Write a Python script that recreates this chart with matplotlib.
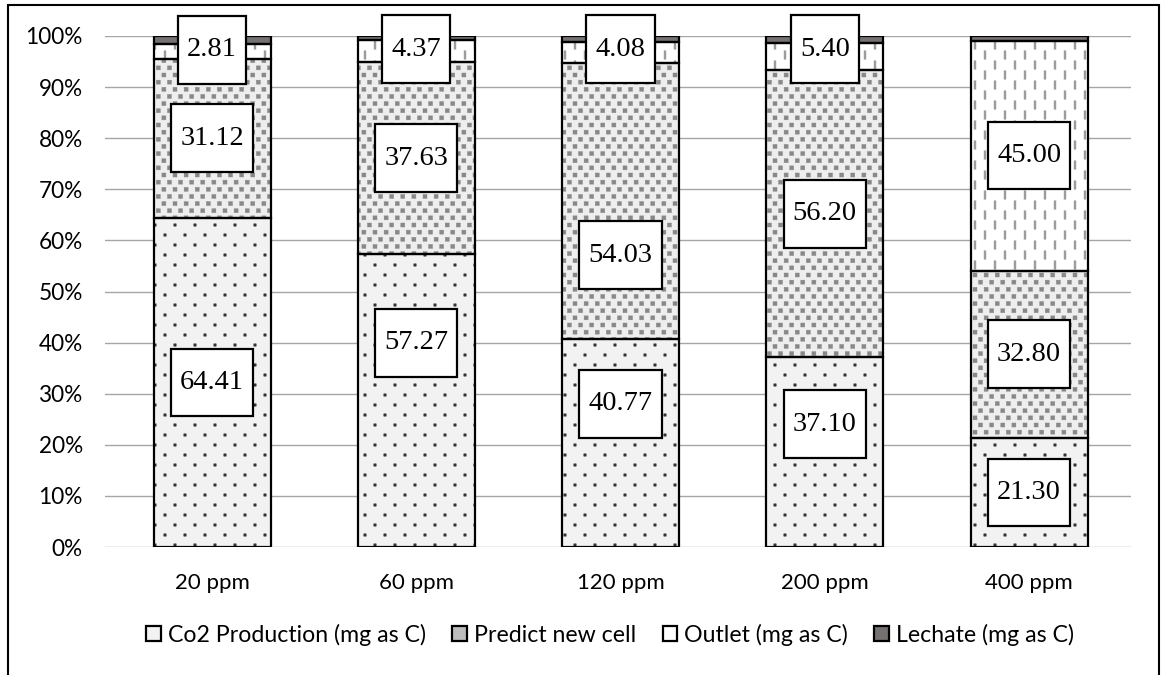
import numpy as np
import matplotlib
matplotlib.use("Agg")
import matplotlib.pyplot as plt
from matplotlib import hatch as mhatch
from matplotlib.path import Path
from matplotlib.patches import Patch, Rectangle

# ---- data -------------------------------------------------------------
categories = ["20 ppm", "60 ppm", "120 ppm", "200 ppm", "400 ppm"]
co2_production = [64.41, 57.27, 40.77, 37.10, 21.30]
predict_new_cell = [31.12, 37.63, 54.03, 56.20, 32.80]
outlet = [2.81, 4.37, 4.08, 5.40, 45.00]
lechate = [1.66, 0.73, 1.12, 1.30, 0.90]
series_names = ["Co2 Production (mg as C)", "Predict new cell",
                "Outlet (mg as C)", "Lechate (mg as C)"]
y_ticks = [0, 10, 20, 30, 40, 50, 60, 70, 80, 90, 100]

# label nudges (percentage points) away from each segment centre
co2_label_shift = [0.0, 11.3, 7.6, 5.5, 0.0]
predict_label_shift = [0.0, 0.0, -10.7, 0.0, 0.0]
outlet_label_shift = [0.4, 0.3, 0.6, 1.4, 0.0]


# ---- tiled fill textures ---------------------------------------------
class _RectTiles(mhatch.HatchPatternBase):
    """Small filled rectangles laid out on a staggered grid in the hatch tile."""
    key = ""
    ncols, nrows = 1, 1
    w, h = 0.02, 0.02
    stagger_rows = True

    def __init__(self, hatch, density):
        self.centers = self._centers() if (hatch and self.key in hatch) else []
        self.num_vertices = 5 * len(self.centers)

    def _centers(self):
        pts = []
        for r in range(self.nrows):
            for c in range(self.ncols):
                if self.stagger_rows:
                    off = 0.5 if r % 2 else 0.0
                    pts.append(((c + 0.25 + off) / self.ncols, (r + 0.5) / self.nrows))
                else:
                    off = 0.5 if c % 2 else 0.0
                    pts.append(((c + 0.5) / self.ncols, (r + 0.25 + off) / self.nrows))
        return pts

    def set_vertices_and_codes(self, vertices, codes):
        hw, hh = self.w / 2, self.h / 2
        for i, (cx, cy) in enumerate(self.centers):
            vertices[5 * i:5 * i + 5] = [(cx - hw, cy - hh), (cx + hw, cy - hh),
                                         (cx + hw, cy + hh), (cx - hw, cy + hh),
                                         (cx - hw, cy - hh)]
            codes[5 * i:5 * i + 5] = [Path.MOVETO, Path.LINETO, Path.LINETO,
                                      Path.LINETO, Path.CLOSEPOLY]


class FineDots(_RectTiles):
    key = "."
    ncols, nrows = 5, 10
    w = h = 0.024


class GreySquares(_RectTiles):
    key = "o"
    ncols, nrows = 9, 14
    w = h = 0.04


class VerticalDashes(_RectTiles):
    key = "|"
    ncols, nrows = 10, 5
    w, h = 0.02, 0.085
    stagger_rows = False


mhatch._hatch_types[:] = [FineDots, GreySquares, VerticalDashes]
plt.rcParams["hatch.linewidth"] = 0.3


def label_box(x0, y0, width, height, mutation_size):
    """Fixed-height rectangle with a narrow side margin around a value label."""
    padx = 0.32 * mutation_size
    half_h = 1.19 * mutation_size
    cy = y0 + height / 2
    xl, xr = x0 - padx, x0 + width + padx
    return Path([(xl, cy - half_h), (xr, cy - half_h), (xr, cy + half_h),
                 (xl, cy + half_h), (xl, cy - half_h)],
                [Path.MOVETO, Path.LINETO, Path.LINETO, Path.LINETO, Path.CLOSEPOLY])


# ---- figure -----------------------------------------------------------
W, H = 1162, 675
fig = plt.figure(figsize=(W / 100, H / 100), dpi=100)
ax = fig.add_axes([105 / W, (H - 547) / H, (1131 - 105) / W, (547 - 36) / H])

sans = "Lato"
x = np.arange(len(categories))
bar_width = 0.573
series = [co2_production, predict_new_cell, outlet, lechate]
faces = ["#f2f2f2", "#eeeeee", "#ffffff", "#767171"]
texture_colors = ["#333333", "#888888", "#9c9c9c", "#767171"]
textures = [".", "o", "|", None]
shifts = [co2_label_shift, predict_label_shift, outlet_label_shift, None]

bottom = np.zeros(len(categories))
for vals, fc, tc, tex, shift in zip(series, faces, texture_colors, textures, shifts):
    vals = np.asarray(vals, dtype=float)
    ax.bar(x, vals, bar_width, bottom=bottom, color=fc, edgecolor=tc,
           linewidth=0, hatch=tex, zorder=2)
    ax.bar(x, vals, bar_width, bottom=bottom, fill=False, edgecolor="black",
           linewidth=1.6, zorder=3)
    if shift is not None:
        for xi, b, v, s in zip(x, bottom, vals, shift):
            ax.text(xi, b + v / 2 + s, f"{v:.2f}", ha="center", va="center",
                    fontsize=20.5, family="Liberation Serif", color="black",
                    bbox=dict(boxstyle=label_box, fc="white", ec="black", lw=1.6),
                    zorder=6, clip_on=False)
    bottom += vals

ax.set_xlim(-0.524, 4.499)
ax.set_ylim(0, 100)
ax.set_yticks(y_ticks)
ax.set_yticklabels([f"{t}%" for t in y_ticks], family=sans, fontsize=16.3)
ax.set_xticks(x)
ax.set_xticklabels(categories, family=sans, fontsize=16)
ax.tick_params(axis="both", length=0)
ax.tick_params(axis="y", pad=16)
ax.tick_params(axis="x", pad=19)
ax.yaxis.grid(True, color="#a6a6a6", linewidth=1.0)
ax.set_axisbelow(True)
for sp in ax.spines.values():
    sp.set_visible(False)

handles = [Patch(facecolor=fc, edgecolor="black", linewidth=1.6)
           for fc in ["#f2f2f2", "#bdbdbd", "#ffffff", "#767171"]]
fig.legend(handles, series_names, loc="center", bbox_to_anchor=(0.525, 1 - 635 / H),
           ncol=4, frameon=False, handlelength=0.62, handleheight=0.62,
           handletextpad=0.3, columnspacing=1.15, prop=dict(family=sans, size=16.7))

# outer chart frame (open at the bottom edge of the image)
fig.add_artist(Rectangle((8 / W, -0.1), (1159 - 8) / W, 1.1 - 5 / H,
                         transform=fig.transFigure, fill=False,
                         edgecolor="black", linewidth=1.5, clip_on=False))

fig.savefig("out.png", dpi=100)
